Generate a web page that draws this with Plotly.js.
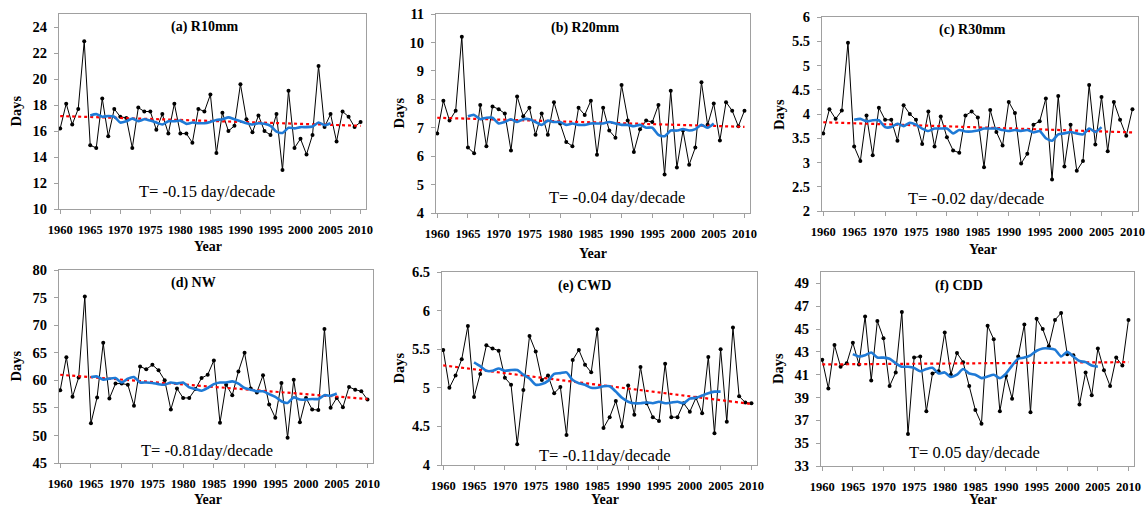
<!DOCTYPE html>
<html><head><meta charset="utf-8">
<script src="https://cdn.plot.ly/plotly-3.0.1.min.js"></script>
<style>html,body{margin:0;padding:0;background:#fff}#chart{width:1146px;height:507px}</style>
</head><body><div id="chart"></div>
<script>
// ---------- DATA ----------
const years = [1960,1961,1962,1963,1964,1965,1966,1967,1968,1969,1970,1971,1972,1973,1974,1975,1976,1977,1978,1979,1980,1981,1982,1983,1984,1985,1986,1987,1988,1989,1990,1991,1992,1993,1994,1995,1996,1997,1998,1999,2000,2001,2002,2003,2004,2005,2006,2007,2008,2009,2010];
const maYears = [1965,1966,1967,1968,1969,1970,1971,1972,1973,1974,1975,1976,1977,1978,1979,1980,1981,1982,1983,1984,1985,1986,1987,1988,1989,1990,1991,1992,1993,1994,1995,1996,1997,1998,1999,2000,2001,2002,2003,2004,2005];
const trendYears = [1960, 2010];

const r10mm = [16.2,18.1,16.5,17.7,22.9,14.9,14.7,18.5,15.6,17.7,17.1,17.0,14.7,17.8,17.5,17.5,16.1,17.3,15.8,18.1,15.8,15.8,15.1,17.7,17.5,18.8,14.3,17.4,16.0,16.4,19.6,16.9,15.9,17.2,16.0,15.7,17.3,13.0,19.1,14.7,15.4,14.2,15.7,21.0,16.3,17.3,15.2,17.5,17.1,16.3,16.7];
const r10mmMA = [17.2,17.3,17.1,17.15,17.1,16.65,16.75,16.95,16.75,16.9,16.8,16.65,16.5,16.75,16.75,16.8,16.55,16.65,16.6,16.6,16.7,16.85,16.9,17.05,16.9,16.75,16.6,16.5,16.6,16.55,16.4,15.95,15.85,16.25,16.2,16.3,16.3,16.35,16.65,16.45,16.6];
const r10mmTrend = [17.15, 16.4];

const r20mm = [6.8,7.95,7.25,7.6,10.2,6.3,6.1,7.8,6.35,7.75,7.65,7.5,6.2,8.1,7.4,7.7,6.75,7.5,6.75,7.9,7.15,6.5,6.35,7.7,7.45,7.95,6.05,7.7,6.9,6.65,8.5,7.25,6.15,6.95,7.25,7.2,7.8,5.35,8.3,5.6,6.9,5.7,6.3,8.6,7.1,7.85,6.55,7.9,7.6,7.05,7.6];
const r20mmMA = [7.4,7.45,7.3,7.35,7.35,7.15,7.2,7.3,7.2,7.3,7.3,7.2,7.1,7.25,7.2,7.2,7.1,7.15,7.1,7.1,7.15,7.15,7.15,7.2,7.15,7.1,7.1,7.05,7.1,7.0,7.0,6.75,6.7,6.9,6.9,6.95,6.9,6.95,7.1,7.0,7.15];
const r20mmTrend = [7.35, 7.03];

const r30mm = [3.6,4.1,3.9,4.07,5.47,3.33,3.03,3.97,3.15,4.13,3.88,3.88,3.45,4.18,4.0,3.88,3.38,4.05,3.33,3.95,3.52,3.25,3.2,3.97,4.05,3.93,2.9,4.08,3.63,3.35,4.25,4.02,2.98,3.18,3.78,3.85,4.32,2.65,4.37,2.92,3.78,2.83,3.03,4.6,3.37,4.35,3.23,4.25,3.88,3.55,4.1];
const r30mmMA = [3.88,3.9,3.85,3.87,3.87,3.73,3.73,3.8,3.75,3.82,3.78,3.7,3.65,3.7,3.7,3.7,3.6,3.67,3.64,3.64,3.66,3.7,3.7,3.7,3.67,3.65,3.67,3.65,3.67,3.62,3.65,3.5,3.45,3.58,3.6,3.63,3.6,3.58,3.7,3.63,3.73];
const r30mmTrend = [3.83, 3.62];

const nw = [58.2,64.2,57.0,60.5,75.2,52.2,56.9,66.8,56.7,59.4,59.4,59.2,55.4,62.5,62.0,62.8,61.8,60.0,54.7,58.5,56.8,56.8,58.4,60.4,61.0,63.6,52.3,59.2,57.3,61.6,65.0,58.5,57.8,60.9,55.6,53.2,59.5,49.6,60.1,52.4,56.8,54.7,54.6,69.3,55.0,56.8,55.1,58.8,58.3,58.0,56.5];
const nwMA = [60.6,60.7,60.1,60.3,60.4,59.6,60.3,60.6,59.6,59.6,59.5,59.3,59.2,59.6,59.4,59.6,58.7,58.4,58.1,58.6,59.3,59.6,59.6,59.8,59.4,58.6,58.3,58.0,58.0,57.5,57.0,56.2,55.9,56.9,56.5,56.5,56.6,56.6,57.3,57.2,57.6];
const nwTrend = [61.0, 56.6];

const cwd = [5.49,5.0,5.16,5.37,5.8,4.88,5.18,5.55,5.51,5.48,5.13,5.04,4.27,4.97,5.67,5.47,5.1,5.16,4.93,5.01,4.39,5.36,5.49,5.3,5.2,5.76,4.48,4.62,4.83,4.5,5.03,4.65,5.27,4.8,4.62,4.57,5.31,4.62,4.62,4.8,4.69,4.87,4.67,5.4,4.41,5.5,4.56,5.78,4.89,4.81,4.8];
const cwdMA = [5.33,5.28,5.22,5.22,5.25,5.22,5.23,5.23,5.17,5.12,5.04,5.05,5.09,5.18,5.19,5.2,5.1,5.06,5.04,5.0,5.0,5.02,5.02,4.95,4.87,4.82,4.8,4.8,4.81,4.8,4.82,4.8,4.81,4.82,4.8,4.86,4.87,4.9,4.93,4.95,4.95];
const cwdTrend = [5.29, 4.79];

const cdd = [42.3,39.8,43.6,41.7,42.0,43.8,41.9,46.1,40.5,45.7,44.2,40.0,41.2,46.5,35.8,42.5,42.6,37.8,41.1,41.3,44.7,41.0,42.9,42.1,40.0,37.9,36.7,45.3,44.1,37.8,40.9,38.9,42.6,45.4,37.7,45.9,45.0,43.5,45.8,46.4,42.8,42.7,38.4,41.2,39.2,43.3,41.4,40.0,42.5,41.8,45.8];
const cddMA = [42.8,42.6,42.7,42.95,42.5,42.5,42.4,42.0,41.7,41.7,41.6,41.3,41.5,41.6,41.1,41.2,40.8,41.0,41.5,41.1,41.0,40.7,40.85,41.0,40.7,41.1,41.8,42.4,42.5,42.7,43.1,43.3,43.3,43.2,42.6,43.0,42.6,42.2,42.1,41.8,41.7];
const cddTrend = [41.9, 42.1];

const panelTitles = ['(a) R10mm','(b) R20mm','(c) R30mm','(d) NW','(e) CWD','(f) CDD'];
const trendLabels = ['T= -0.15 day/decade','T= -0.04 day/decade','T= -0.02 day/decade','T= -0.81day/decade','T= -0.11day/decade','T= 0.05 day/decade'];
const xTickYears = [1960,1965,1970,1975,1980,1985,1990,1995,2000,2005,2010];
const xTitle = 'Year';
const yTitle = 'Days';

// ---------- LAYOUT / STYLE ----------
const W = 1146, H = 507;
const series = [
  {v: r10mm, ma: r10mmMA, tr: r10mmTrend},
  {v: r20mm, ma: r20mmMA, tr: r20mmTrend},
  {v: r30mm, ma: r30mmMA, tr: r30mmTrend},
  {v: nw, ma: nwMA, tr: nwTrend},
  {v: cwd, ma: cwdMA, tr: cwdTrend},
  {v: cdd, ma: cddMA, tr: cddTrend}
];
// pixel boxes [left, right, top, bottom]
const boxes = [
  [59, 366, 14, 209],
  [436, 750, 14, 213],
  [822, 1138, 17, 211],
  [59, 373, 270, 463],
  [442, 757, 272, 465],
  [821, 1134, 272, 466]
];
const yRanges = [[10,25],[4,11],[2,6],[45,80],[4,6.5],[33,50]];
const yDticks = [2,1,0.5,5,0.5,2];
const yTick0 = [10,4,2,45,4,33];
const titlePos = [[205,27],[585,28],[972,30],[193,283],[584,286],[959,286]];
const tPos = [[207,192],[617,197],[976,198],[207,450],[604,455],[974,452]];
const xTitlePos = [[208,246],[593,253],[983,249],[208,499],[605,499],[983,499]];
const yTitleX = [15, 398, 779, 15, 398, 778];

const serif = 'Liberation Serif';
const traces = [];
const layout = {
  width: W, height: H,
  margin: {l:0, r:0, t:0, b:0},
  paper_bgcolor: '#fff', plot_bgcolor: '#fff',
  showlegend: false,
  font: {family: serif, color: '#000'},
  annotations: []
};
series.forEach((s, i) => {
  const n = i + 1;
  const xa = 'x' + (n === 1 ? '' : n), ya = 'y' + (n === 1 ? '' : n);
  traces.push({x: years, y: s.v, xaxis: xa, yaxis: ya, type: 'scatter', mode: 'lines+markers',
    line: {color: '#000', width: 1}, marker: {color: '#000', size: 4}});
  traces.push({x: trendYears, y: s.tr, xaxis: xa, yaxis: ya, type: 'scatter', mode: 'lines',
    line: {color: '#ff0000', width: 2.2, dash: 'dot'}});
  traces.push({x: maYears, y: s.ma, xaxis: xa, yaxis: ya, type: 'scatter', mode: 'lines',
    line: {color: '#1f7ad6', width: 2.6, shape: 'spline', smoothing: 0.6}});
  const b = boxes[i];
  const xKey = 'xaxis' + (n === 1 ? '' : n), yKey = 'yaxis' + (n === 1 ? '' : n);
  layout[xKey] = {
    domain: [b[0]/W, b[1]/W], anchor: ya, range: [1959.8, 2010.9],
    tickvals: xTickYears, ticktext: xTickYears.map(y => '<b>' + y + '</b>'),
    ticks: 'outside', ticklen: 4, tickcolor: '#a0a0a0',
    showline: true, mirror: true, linecolor: '#a0a0a0', linewidth: 1,
    showgrid: false, zeroline: false, ticklabelstandoff: 5,
    tickfont: {family: serif, size: 12.5, color: '#000'}
  };
  layout[yKey] = {
    domain: [1 - b[3]/H, 1 - b[2]/H], anchor: xa, range: yRanges[i],
    tick0: yTick0[i], dtick: yDticks[i], ticks: 'outside', ticklen: 4, tickcolor: '#a0a0a0',
    showline: true, mirror: true, linecolor: '#a0a0a0', linewidth: 1,
    showgrid: false, zeroline: false, ticklabelstandoff: 4,
    tickfont: {family: serif, size: 14.5, color: '#000', weight: 'bold'}
  };
  layout.annotations.push({xref: 'paper', yref: 'paper', x: titlePos[i][0]/W, y: 1 - titlePos[i][1]/H,
    text: '<b>' + panelTitles[i] + '</b>', showarrow: false, xanchor: 'center', yanchor: 'middle',
    font: {family: serif, size: 14, color: '#000'}});
  layout.annotations.push({xref: 'paper', yref: 'paper', x: tPos[i][0]/W, y: 1 - tPos[i][1]/H,
    text: trendLabels[i], showarrow: false, xanchor: 'center', yanchor: 'middle',
    font: {family: serif, size: 16.5, color: '#000'}});
  layout.annotations.push({xref: 'paper', yref: 'paper', x: xTitlePos[i][0]/W, y: 1 - xTitlePos[i][1]/H,
    text: '<b>' + xTitle + '</b>', showarrow: false, xanchor: 'center', yanchor: 'middle',
    font: {family: serif, size: 14, color: '#000'}});
  layout.annotations.push({xref: 'paper', yref: 'paper', x: yTitleX[i]/W, y: 1 - ((b[2]+b[3])/2)/H,
    text: '<b>' + yTitle + '</b>', showarrow: false, textangle: -90, xanchor: 'center', yanchor: 'middle',
    font: {family: serif, size: 14.5, color: '#000'}});
});
Plotly.newPlot('chart', traces, layout, {displayModeBar: false, staticPlot: true});
</script>
</body></html>
